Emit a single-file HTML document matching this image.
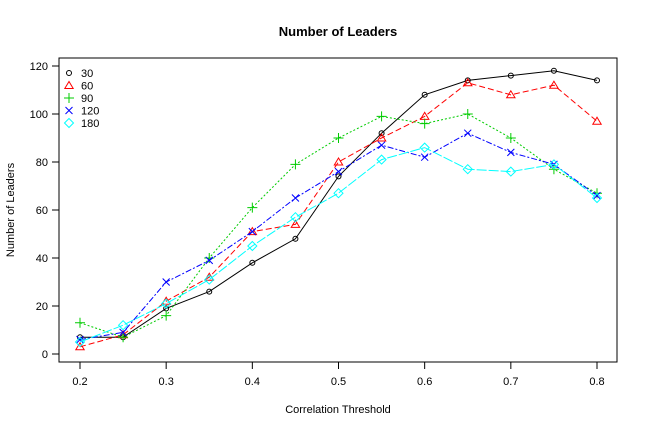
<!DOCTYPE html>
<html><head><meta charset="utf-8"><style>body{margin:0;background:#fff}svg{display:block;font-family:"Liberation Sans",Arial,sans-serif}</style></head>
<body>
<svg id="chart" width="648" height="432">
<rect x="0" y="0" width="648" height="432" fill="#fff"/>
<text x="338" y="36" text-anchor="middle" font-weight="bold" font-size="13">Number of Leaders</text>
<text x="338" y="413" text-anchor="middle" font-size="11">Correlation Threshold</text>
<text x="14" y="210" text-anchor="middle" font-size="11" transform="rotate(-90 14 210)">Number of Leaders</text>
<rect x="59" y="58" width="558" height="304" fill="none" stroke="#000"/>
<g id="axes"></g><g id="series"></g><g id="legend"></g>
</svg>
<script>
const xVals=[0.2,0.25,0.3,0.35,0.4,0.45,0.5,0.55,0.6,0.65,0.7,0.75,0.8];
const xTicks=[0.2,0.3,0.4,0.5,0.6,0.7,0.8];
const yTicks=[0,20,40,60,80,100,120];
const seriesNames=["30","60","90","120","180"];
const s30=[7,7,19,26,38,48,74,92,108,114,116,118,114];
const s60=[3,8,22,32,51,54,80,90,99,113,108,112,97];
const s90=[13,7,16,40,61,79,90,99,96,100,90,77,67];
const s120=[6,9,30,39,51,65,76,87,82,92,84,79,66];
const s180=[5,12,21,31,45,57,67,81,86,77,76,79,65];
const NS="http://www.w3.org/2000/svg";
function X(v){return 80+(v-0.2)/0.6*517;}
function Y(v){return 354-v*2.4;}
function mk(t,a,p){const e=document.createElementNS(NS,t);for(const k in a)e.setAttribute(k,a[k]);p.appendChild(e);return e;}
const ax=document.getElementById('axes');
xTicks.forEach(t=>{mk('line',{x1:X(t),x2:X(t),y1:362,y2:369,stroke:'#000'},ax);const tx=mk('text',{x:X(t),y:385,'text-anchor':'middle','font-size':11},ax);tx.textContent=t.toFixed(1);

});
yTicks.forEach(t=>{mk('line',{x1:52,x2:59,y1:Y(t),y2:Y(t),stroke:'#000'},ax);const tx=mk('text',{x:48,y:Y(t)+4,'text-anchor':'end','font-size':11},ax);tx.textContent=t;

});
const cfg=[{d:s30,c:'#000',dash:'',m:'o'},{d:s60,c:'#f00',dash:'6,3',m:'tri'},{d:s90,c:'#0c0',dash:'2,2',m:'plus'},{d:s120,c:'#00f',dash:'6,2,2,2',m:'x'},{d:s180,c:'#0ff',dash:'10,2',m:'dia'}];
function marker(g,m,x,y,c){
 if(m==='o')mk('circle',{cx:x,cy:y,r:2.5,fill:'none',stroke:c},g);
 else if(m==='tri')mk('polygon',{points:`${x},${y-4} ${x-4.2},${y+3} ${x+4.2},${y+3}`,fill:'none',stroke:c},g);
 else if(m==='plus')mk('path',{d:`M${x-5},${y}H${x+5}M${x},${y-5}V${y+5}`,stroke:c},g);
 else if(m==='x')mk('path',{d:`M${x-3.5},${y-3.5}L${x+3.5},${y+3.5}M${x-3.5},${y+3.5}L${x+3.5},${y-3.5}`,stroke:c},g);
 else mk('polygon',{points:`${x},${y-4.5} ${x+4.5},${y} ${x},${y+4.5} ${x-4.5},${y}`,fill:'none',stroke:c},g);
}
const sg=document.getElementById('series');
cfg.forEach((s,i)=>{
 const g=mk('g',{},sg);
 
 
 const pts=s.d.map((v,j)=>X(xVals[j])+','+Y(v)).join(' ');
 mk('polyline',{points:pts,fill:'none',stroke:s.c,'stroke-dasharray':s.dash},g);
 s.d.forEach((v,j)=>marker(g,s.m,X(xVals[j]),Y(v),s.c));
});
const lg=document.getElementById('legend');
cfg.forEach((s,i)=>{
 const y=73+i*12.5;
 const g=mk('g',{},lg);
 
 
 marker(g,s.m,69,y,s.c);
 const t=mk('text',{x:81,y:y+4,'font-size':11},g);t.textContent=seriesNames[i];
});
</script>
</body></html>
